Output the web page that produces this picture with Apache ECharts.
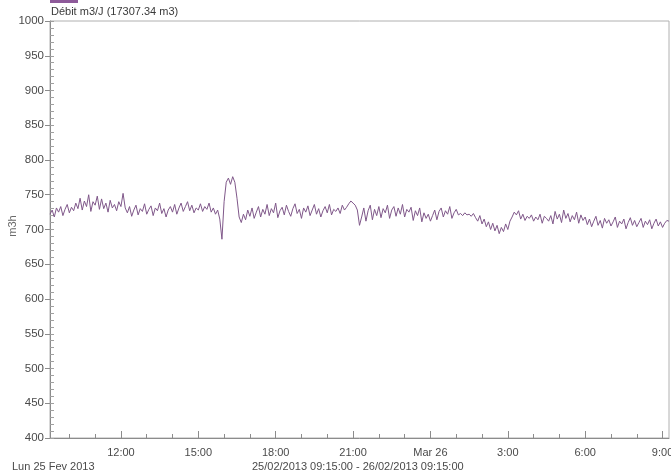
<!DOCTYPE html>
<html><head><meta charset="utf-8">
<script src="https://cdn.jsdelivr.net/npm/echarts@6/dist/echarts.min.js"></script>
<style>html,body{margin:0;padding:0;background:#fff}#c{width:671px;height:476px}</style>
</head><body><div id="c"></div>
<script>
// Time: hours since 25/02/2013 00:00, samples every 5 minutes from 09:15
const startHour = 9.25;
const endHour = 33.25;
const stepHours = 5 / 60;
const flowValues = [
722,728,718,731,725,733,720,729,736,724,732,727,
738,730,745,728,741,733,750,726,740,735,748,729,
744,730,738,725,742,731,736,727,740,733,
752,731,724,733,719,728,735,721,730,726,737,722,
729,734,720,731,727,738,723,730,718,728,733,725,
736,722,731,738,726,733,740,727,735,724,731,728,
737,726,733,729,738,725,731,722,728,715,686,
740,768,774,765,776,768,745,718,710,
722,714,728,719,731,716,725,733,718,729,722,736,
720,730,724,738,717,727,732,721,735,726,719,730,
737,723,729,716,731,725,734,720,728,736,722,730,
718,727,733,724,736,721,729,726,731,723,735,728,
732,737,741,738,
735,728,706,718,731,712,727,735,714,729,720,733,
717,730,724,735,716,728,733,719,731,722,736,718,
729,725,732,713,727,720,731,711,724,716,722,712,
720,728,714,726,731,718,727,722,733,716,724,729,
721,723,720,724,721,722,719,723,717,712,720,708,
715,704,711,700,709,698,706,694,703,697,708,700,
712,718,725,721,727,715,722,713,719,716,721,712,
718,714,722,709,719,716,712,720,708,726,715,722,
710,728,716,723,711,720,714,725,709,721,713,718,
707,715,704,712,719,706,713,702,716,709,714,705,
711,718,703,712,708,715,701,710,717,706,713,704,
710,716,703,712,707,714,701,709,715,705,711,703,709,713,712
];
const majorTickHours = [12,15,18,21,24,27,30,33];
const tickLabels = ['12:00','15:00','18:00','21:00','Mar 26','3:00','6:00','9:00'];
const minorTickHours = [10,11,12,13,14,15,16,17,18,19,20,21,22,23,24,25,26,27,28,29,30,31,32,33];
const titleText = 'Débit m3/J (17307.34 m3)';
const dateText = 'Lun 25 Fev 2013';
const rangeText = '25/02/2013 09:15:00 - 26/02/2013 09:15:00';
const yName = 'm3h';

const seriesData = flowValues.map((v, i) => [startHour + i * stepHours, v]);
const labelMap = {};
majorTickHours.forEach((h, i) => labelMap[h] = tickLabels[i]);

const font = 'Liberation Sans, Arial, sans-serif';
const txt = '#4a4a4a';
const axisCol = '#8c8c8c';

const chart = echarts.init(document.getElementById('c'), null, {renderer: 'canvas'});
chart.setOption({
  animation: false,
  backgroundColor: '#fff',
  grid: {left: 50, right: 2, top: 21, bottom: 38, show: true, borderColor: '#b0b0b0', borderWidth: 1,
         containLabel: false, outerBoundsMode: 'none'},
  xAxis: [{
    type: 'value', min: startHour, max: endHour,
    axisLine: {lineStyle: {color: axisCol}},
    axisTick: {show: true, inside: true, length: 7, customValues: majorTickHours, lineStyle: {color: axisCol}},
    axisLabel: {customValues: majorTickHours, formatter: v => labelMap[Math.round(v)] || '', color: txt, fontFamily: font, fontSize: 11, margin: 9, hideOverlap: false},
    splitLine: {show: false}
  }, {
    type: 'value', min: startHour, max: endHour, position: 'bottom',
    axisLine: {show: false},
    axisTick: {show: true, inside: true, length: 4, customValues: minorTickHours, lineStyle: {color: axisCol}},
    axisLabel: {show: false},
    splitLine: {show: false}
  }],
  yAxis: [{
    type: 'value', min: 400, max: 1000, interval: 50,
    axisLine: {show: true, lineStyle: {color: axisCol}},
    axisTick: {show: true, inside: false, length: 5, lineStyle: {color: axisCol}},
    axisLabel: {color: txt, fontFamily: font, fontSize: 11.5, margin: 6, formatter: v => String(v)},
    splitLine: {show: false}
  }, {
    type: 'value', min: 400, max: 1000, interval: 10, position: 'left',
    axisLine: {show: false},
    axisTick: {show: true, inside: true, length: 4, lineStyle: {color: '#a0a0a0'}},
    axisLabel: {show: false},
    splitLine: {show: false}
  }],
  series: [{
    type: 'line', data: seriesData, xAxisIndex: 0, yAxisIndex: 0,
    showSymbol: false, symbol: 'none',
    lineStyle: {color: '#80588a', width: 1},
    itemStyle: {color: '#80588a'}
  }],
  graphic: [
    {type: 'rect', left: 50, top: 0, shape: {width: 28, height: 3}, style: {fill: '#8e5a9a'}},
    {type: 'text', left: 51, top: 6, style: {text: titleText, fill: '#3a3a3a', font: '11px ' + font}},
    {type: 'text', x: 13, y: 226, rotation: Math.PI / 2, style: {text: yName, fill: '#6a6a6a', font: '11px ' + font, align: 'center', verticalAlign: 'middle'}},
    {type: 'text', left: 12, top: 461, style: {text: dateText, fill: txt, font: '11px ' + font}},
    {type: 'text', left: 252, top: 461, style: {text: rangeText, fill: txt, font: '11px ' + font}}
  ]
});
</script></body></html>
